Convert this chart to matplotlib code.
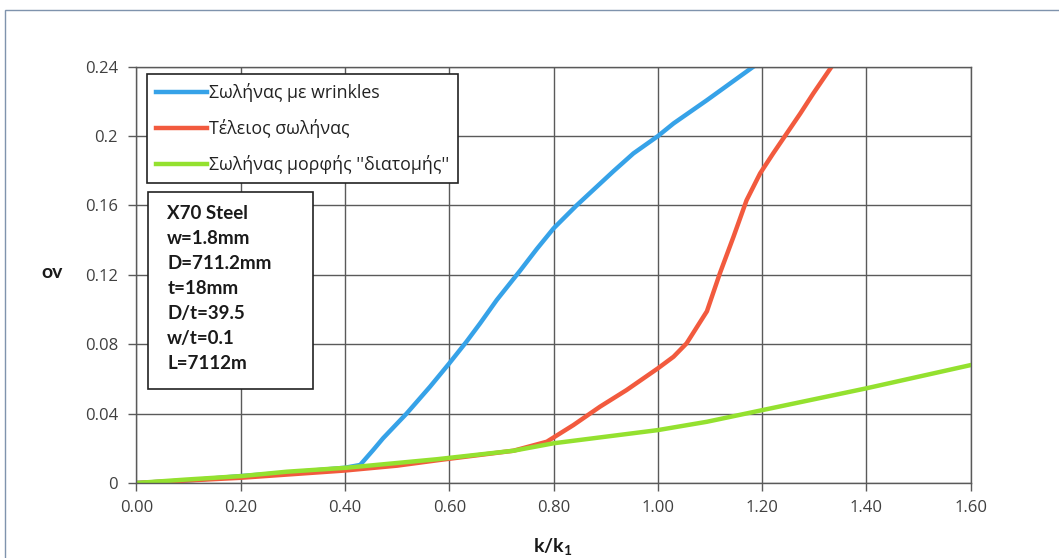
import matplotlib
matplotlib.use("Agg")
import matplotlib.pyplot as plt
from matplotlib.patches import Rectangle

# k/k1 vs ovality for three pipe models
wrinkled_x = [0.00, 0.10, 0.20, 0.30, 0.40, 0.429, 0.454, 0.473, 0.518, 0.563, 0.60, 0.633,
              0.659, 0.691, 0.736, 0.768, 0.80, 0.844, 0.915, 0.953, 1.00, 1.03, 1.094, 1.183]
wrinkled_y = [0.000, 0.0015, 0.0040, 0.0062, 0.0088, 0.0104, 0.019, 0.0258, 0.040, 0.0555,
              0.069, 0.0815, 0.092, 0.1055, 0.1225, 0.135, 0.1468, 0.160, 0.1798, 0.190,
              0.200, 0.2073, 0.2207, 0.240]

perfect_x = [0.00, 0.20, 0.40, 0.50, 0.582, 0.723, 0.787, 0.838, 0.889, 0.940, 1.00, 1.03,
             1.055, 1.094, 1.119, 1.145, 1.170, 1.196, 1.221, 1.247, 1.273, 1.298, 1.333]
perfect_y = [0.000, 0.0030, 0.0072, 0.0100, 0.0133, 0.0186, 0.0238, 0.0334, 0.044, 0.0536,
             0.0661, 0.0728, 0.0805, 0.0990, 0.121, 0.142, 0.163, 0.1785, 0.190, 0.2015,
             0.213, 0.2246, 0.240]

section_x = [0.00, 0.096, 0.202, 0.288, 0.403, 0.576, 0.723, 0.80, 1.00, 1.094, 1.20,
             1.40, 1.60]
section_y = [0.000, 0.0020, 0.0040, 0.0065, 0.0088, 0.0137, 0.0186, 0.0229, 0.0305,
             0.0353, 0.0420, 0.0546, 0.0680]

series_labels = ["Σωλήνας με wrinkles", "Τέλειος σωλήνας", "Σωλήνας μορφής ''διατομής''"]

x_ticks = [0.00, 0.20, 0.40, 0.60, 0.80, 1.00, 1.20, 1.40, 1.60]
x_ticklabels = ["0.00", "0.20", "0.40", "0.60", "0.80", "1.00", "1.20", "1.40", "1.60"]
y_ticks = [0.00, 0.04, 0.08, 0.12, 0.16, 0.20, 0.24]
y_ticklabels = ["0", "0.04", "0.08", "0.12", "0.16", "0.2", "0.24"]

info_lines = ["X70 Steel", "w=1.8mm", "D=711.2mm", "t=18mm", "D/t=39.5", "w/t=0.1", "L=7112m"]

W, H = 1059, 558
fig = plt.figure(figsize=(W / 100, H / 100), dpi=100)
fig.patch.set_facecolor("white")

# chart-area outline
fig.patches.append(Rectangle((5 / W, -0.1), 1.2, 1 - 10 / H + 0.1, transform=fig.transFigure,
                             fill=False, edgecolor="#7f93ad", linewidth=1.0))

ax = fig.add_axes([136.4 / W, 1 - 483 / H, (970.8 - 136.4) / W, (483 - 66.7) / H])

grid_c = "#5a5a5a"
ax.set_xlim(0, 1.6)
ax.set_ylim(0, 0.24)
ax.set_xticks(x_ticks)
ax.set_xticklabels(x_ticklabels)
ax.set_yticks(y_ticks)
ax.set_yticklabels(y_ticklabels)
ax.grid(True, color=grid_c, linewidth=1.0)
ax.set_axisbelow(True)
for s in ax.spines.values():
    s.set_color(grid_c)
    s.set_linewidth(1.0)
ax.tick_params(axis="both", direction="out", length=5.8, width=1, color=grid_c,
               labelsize=12, labelcolor="#404040")
ax.tick_params(axis="y", pad=7.5)
ax.tick_params(axis="x", pad=6.5)
for lab in ax.get_xticklabels() + ax.get_yticklabels():
    lab.set_fontfamily("Open Sans")

ax.plot(wrinkled_x, wrinkled_y, color="#36A2E8", lw=3.2, label=series_labels[0])
ax.plot(perfect_x, perfect_y, color="#F25A3E", lw=3.2, label=series_labels[1])
ax.plot(section_x, section_y, color="#94E12F", lw=3.2, label=series_labels[2])

leg = ax.legend(loc="upper left", bbox_to_anchor=(10.3 / 834.4, 1 - 7.3 / 416.3),
                frameon=True, fancybox=False, edgecolor="#222222", framealpha=1,
                handlelength=2.9, handletextpad=0.1, labelspacing=0.96, borderpad=0.5,
                borderaxespad=0, prop={"family": "Open Sans", "size": 12.8})
leg.get_frame().set_linewidth(1.2)
for t in leg.get_texts():
    t.set_color("#222222")

# specimen data box
px = lambda x: (x - 136.4) / 834.4
py = lambda y: (483 - y) / 416.3
ax.add_patch(Rectangle((px(148.3), py(389.3)), px(312.7) - px(148.3), py(191.7) - py(389.3),
                       transform=ax.transAxes, facecolor="white", edgecolor="#222222",
                       linewidth=1.2, zorder=5))
for i, line in enumerate(info_lines):
    ax.text(px(167.3), py(213.3 + 25 * i), line, transform=ax.transAxes, ha="left",
            va="center", fontsize=13.5, fontweight="bold", family="Lato",
            color="#1a1a1a", zorder=6)

fig.text(52 / W, 1 - 273 / H, "ov", ha="center", va="center", fontsize=14,
         fontweight="bold", family="Lato", color="#1a1a1a")
fig.text(553 / W, 1 - 547 / H, r"k/k$_\mathregular{1}$", ha="center", va="center",
         fontsize=14, fontweight="bold", family="Lato", color="#1a1a1a")

fig.savefig("out.png", dpi=100)
